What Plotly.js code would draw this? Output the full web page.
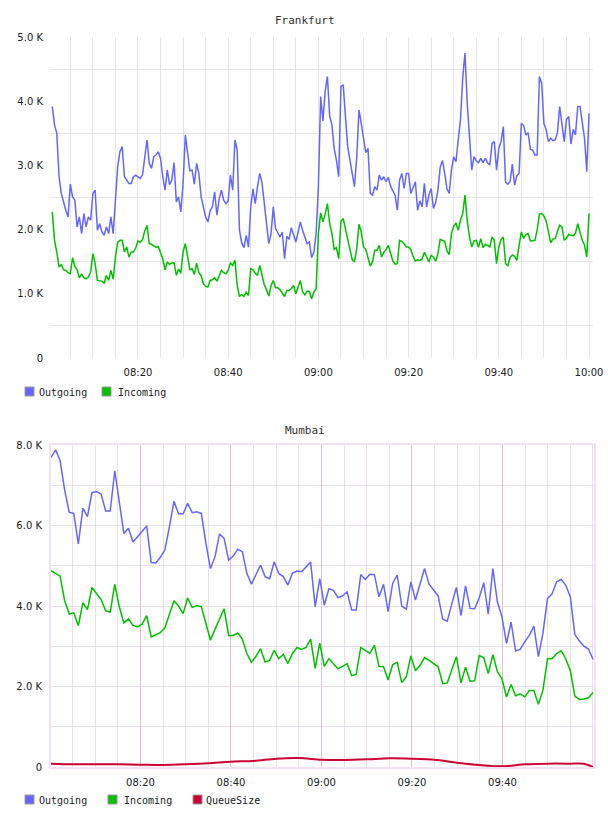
<!DOCTYPE html>
<html>
<head>
<meta charset="utf-8">
<script src="https://cdn.plot.ly/plotly-3.0.1.min.js"></script>
<style>
  html, body { margin: 0; padding: 0; background: #fff; }
  #chart { width: 608px; height: 816px; }
</style>
</head>
<body>
<div id="chart"></div>
<script>
// ---- Frankfurt: traffic sampled every 30 s from 08:01 ----
const DAY = '2024-05-14';
const frankfurtStart = '08:01:00';
const frankfurtStepSec = 30;
const frankfurtOutgoing = [
  3917,3630,3500,2823,2563,2406,2302,2198,2708,2510,
  2458,2042,2198,1938,2250,2042,2198,2146,2563,2615,
  1990,2094,1963,1911,2042,1938,2198,1938,2458,2979,
  3213,3292,2823,2771,2719,2719,2823,2849,2823,2797,
  2849,3135,3396,3031,2953,3135,3161,3213,3109,2823,
  2615,2930,2700,2771,3042,2432,2510,2276,2719,3474,
  3161,
  2917,2927,2708,3031,2875,2510,2328,2198,2120,2292,
  2354,2588,2224,2474,2615,2458,2406,2448,2849,2615,
  3396,3239,1990,1792,1719,1911,1729,2354,2635,2406,
  2667,2875,2729,2432,2068,1781,1938,2354,2016,1938,
  1885,1963,1547,1896,1849,2031,1911,1807,1963,2120,
  1990,1901,1781,1807,1562,1651,1938,2667,
  4073,3693,4151,4385,3771,3630,3265,3083,2823,4229,
  4255,3760,3292,3083,2875,2667,3135,3864,3656,3396,
  3198,3265,2563,2536,2667,2615,2849,2771,2823,2745,
  2812,2677,2615,2536,2302,2771,2875,2640,2875,2875,
  2563,2640,2745,2302,2448,2354,2719,2354,2536,2640,
  2328,2422,2615,2969,3078,2875,2640,2563,2927,3135,
  3057,3396,3708,4359,4750,3969,3500,2927,3135,3073,
  3042,3109,3042,3109,3042,3005,3344,3370,2927,3265,
  3370,3604,2740,2708,2745,3021,2693,2838,2875,3656,
  3620,3474,3510,3250,3239,3161,3161,4385,4281,3656,
  3552,3370,3422,3385,3396,3510,3917,3656,3370,3719,
  3760,3333,3562,3474,3917,3917,3656,3422,2900,3812
];
const frankfurtIncoming = [
  2276,1833,1651,1417,1453,1375,1364,1328,1312,1562,
  1427,1375,1250,1312,1250,1234,1260,1338,1625,1469,
  1208,1208,1198,1167,1286,1208,1364,1229,1573,1802,
  1833,1833,1651,1729,1573,1651,1651,1713,1823,1802,
  1844,1979,2068,1781,1771,1745,1724,1740,1625,1542,
  1375,1495,1458,1479,1484,1286,1385,1323,1651,1781,
  1583,
  1375,1391,1302,1479,1328,1286,1156,1115,1104,1208,
  1219,1250,1198,1276,1364,1328,1312,1364,1479,1443,
  1521,1130,958,990,958,1026,974,1391,1375,1323,
  1286,1443,1297,1141,1062,964,1130,1208,1094,1094,
  1062,1000,958,1052,1052,1083,1130,1000,1089,1208,
  1031,984,1042,1036,922,1026,1078,1938,
  2260,2120,2240,2406,2094,1938,1693,1719,1547,2130,
  2172,2016,1807,1687,1531,1505,1703,2083,1963,1729,
  1693,1562,1432,1500,1677,1677,1755,1573,1646,1687,
  1755,1635,1510,1463,1469,1833,1818,1781,1729,1729,
  1687,1583,1510,1531,1521,1542,1646,1573,1495,1599,
  1573,1510,1625,1849,1833,1818,1667,1609,1938,2052,
  2104,1990,2146,2250,2536,2135,1885,1729,1823,1833,
  1724,1859,1719,1771,1755,1729,1885,1833,1469,1729,
  1844,1885,1469,1437,1562,1604,1583,1521,1755,1963,
  1865,1922,1938,1823,1828,1833,1990,2240,2250,2214,
  2135,1938,1792,1854,1859,1974,2068,2042,1833,1865,
  1927,1911,1906,1943,2094,1958,1833,1760,1573,2250
];

// ---- Mumbai: one sample per polling cycle (~60 s) ----
const mumbaiStart = '08:00:14';
const mumbaiStepSec = 60.4;
const mumbaiOutgoing = [
  7690,7880,7610,6880,6330,6300,5540,6430,6220,6820,
  6840,6780,6360,6360,7360,6550,5800,5930,5590,5720,
  5850,5990,5080,5070,5210,5390,5970,6600,6290,6290,
  6550,6320,6340,6300,5560,4930,5220,5790,5680,5140,
  5240,5410,5350,4810,4540,4770,5020,4730,4680,5100,
  4810,4730,4520,4810,4870,4850,4960,5090,3980,4680,
  4020,4430,4390,4210,4250,4350,3900,3900,4780,4660,
  4790,4780,4230,4540,3860,4560,4770,4000,3920,4600,
  4150,4510,4930,4540,4390,4250,3670,3620,4060,4460,
  3760,4500,3940,3930,4200,4580,3800,4930,4100,3730,
  3070,3600,2880,2920,3110,3270,3500,2740,3330,4190,
  4300,4600,4660,4520,4230,3290,3130,3000,2930,2670
];
const mumbaiIncoming = [
  4880,4810,4740,4130,3800,3830,3510,4080,3910,4460,
  4310,4160,3880,3850,4540,3980,3580,3680,3520,3480,
  3550,3760,3230,3280,3340,3460,3800,4130,4000,3810,
  4200,3960,4010,3980,3570,3150,3420,3690,3930,3270,
  3270,3330,3180,2820,2600,2750,2940,2610,2650,2900,
  2690,2800,2570,2820,2970,2920,2970,3180,2450,3080,
  2500,2690,2570,2440,2500,2570,2270,2300,2970,2900,
  2820,3030,2500,2490,2160,2540,2600,2100,2240,2760,
  2390,2520,2720,2650,2570,2490,2070,2090,2420,2740,
  2090,2480,2130,2140,2770,2720,2320,2790,2370,2190,
  1740,2050,1770,1820,1740,1900,1900,1560,1910,2690,
  2690,2820,2890,2690,2400,1760,1680,1690,1720,1850
];
const queueTimes = [
  '08:00:14','08:05','08:10','08:15','08:20','08:25','08:30','08:35','08:40','08:45',
  '08:50','08:55','09:00','09:05','09:10','09:15','09:20','09:25','09:30','09:35',
  '09:40','09:45','09:50','09:55','09:58','10:00'
];
const queueSize = [
  80,66,66,66,58,50,66,91,133,150,
  207,224,182,174,190,216,207,182,108,50,
  17,66,83,83,80,0
];

const seriesNames  = ['Outgoing', 'Incoming', 'QueueSize'];
const seriesColors = ['#6666ff', '#00c000', '#cc0033'];
const hourTicks = ['08:20', '08:40', '09:00', '09:20', '09:40', '10:00'];
const frankfurtYTicks = [0, 1000, 2000, 3000, 4000, 5000];
const mumbaiYTicks = [0, 2000, 4000, 6000, 8000];

// ---- helpers ----
const W = 608, H = 816;
const px = x => x / W;
const py = y => 1 - y / H;
const pad = n => String(n).padStart(2, '0');
function clock(hms) {
  const p = hms.split(':').map(Number);
  return p[0] * 3600 + p[1] * 60 + (p[2] || 0);
}
function stamp(sec) {
  const h = Math.floor(sec / 3600), m = Math.floor((sec % 3600) / 60);
  const s = (sec % 60).toFixed(1);
  return `${DAY} ${pad(h)}:${pad(m)}:${s.padStart(4, '0')}`;
}
function timeline(start, stepSec, n) {
  const t0 = clock(start);
  return Array.from({length: n}, (_, i) => stamp(t0 + i * stepSec));
}
const at = hm => `${DAY} ${hm}`;
const fmtK = v => v === 0 ? '0' : (v / 1000).toFixed(1) + ' K';

const fTimes = timeline(frankfurtStart, frankfurtStepSec, frankfurtOutgoing.length);
const mTimes = timeline(mumbaiStart, mumbaiStepSec, mumbaiOutgoing.length);

const line = (x, y, i, xa, ya, extra) => Object.assign({
  type: 'scatter', mode: 'lines', x, y, name: seriesNames[i],
  xaxis: xa, yaxis: ya, hoverinfo: 'skip',
  line: {color: seriesColors[i], width: 1.5}
}, extra || {});

const data = [
  line(fTimes, frankfurtOutgoing, 0, 'x', 'y'),
  line(fTimes, frankfurtIncoming, 1, 'x', 'y'),
  line(mTimes, mumbaiOutgoing, 0, 'x2', 'y2'),
  line(mTimes, mumbaiIncoming, 1, 'x2', 'y2'),
  line(queueTimes.map(at), queueSize, 2, 'x2', 'y2', {line: {color: seriesColors[2], width: 2, shape: 'spline', smoothing: 0.8}})
];

const tickFont = {family: 'DejaVu Sans', size: 10, color: '#222'};
const monoFont = {family: 'DejaVu Sans Mono', size: 10, color: '#222'};
const FGRID = '#e6e6e6';
const MGRID = '#ecdfec', MMAJOR = '#dcc3dc', MFRAME = '#f1e3f1';

const layout = {
  width: W, height: H,
  margin: {l: 0, r: 0, t: 0, b: 0},
  paper_bgcolor: '#fff', plot_bgcolor: '#fff',
  showlegend: false,
  xaxis: {
    type: 'date', domain: [px(51), px(593)], anchor: 'y',
    range: [at('08:00:43'), at('10:00:53')],
    tickmode: 'array', tickvals: hourTicks.map(at), ticktext: hourTicks,
    showgrid: true, gridcolor: FGRID, gridwidth: 1,
    minor: {dtick: 300000, tick0: at('08:00'), showgrid: true, gridcolor: FGRID, gridwidth: 1},
    ticks: 'outside', ticklen: 5, tickcolor: 'rgba(0,0,0,0)',
    zeroline: false, showline: false, tickfont: tickFont, fixedrange: true
  },
  yaxis: {
    domain: [py(358), py(37)], anchor: 'x', range: [0, 5000],
    tickmode: 'array', tickvals: frankfurtYTicks, ticktext: frankfurtYTicks.map(fmtK),
    showgrid: false,
    minor: {tick0: 500, dtick: 1000, showgrid: true, gridcolor: FGRID, gridwidth: 1},
    ticks: 'outside', ticklen: 5, tickcolor: 'rgba(0,0,0,0)',
    zeroline: false, showline: false, tickfont: tickFont, fixedrange: true
  },
  xaxis2: {
    type: 'date', domain: [px(51), px(594)], anchor: 'y2',
    range: [at('08:00:14'), at('10:00:14')],
    tickmode: 'array', tickvals: hourTicks.slice(0, 5).map(at), ticktext: hourTicks.slice(0, 5),
    showgrid: true, gridcolor: MMAJOR, gridwidth: 1,
    minor: {dtick: 300000, tick0: at('08:00'), showgrid: true, gridcolor: MGRID, gridwidth: 1},
    ticks: 'outside', ticklen: 5, tickcolor: 'rgba(0,0,0,0)',
    zeroline: false, showline: true, mirror: true, linecolor: MFRAME, linewidth: 2,
    tickfont: tickFont, fixedrange: true
  },
  yaxis2: {
    domain: [py(767), py(445)], anchor: 'x2', range: [0, 8000],
    tickmode: 'array', tickvals: mumbaiYTicks, ticktext: mumbaiYTicks.map(fmtK),
    showgrid: true, gridcolor: MGRID, gridwidth: 1,
    minor: {tick0: 1000, dtick: 2000, showgrid: true, gridcolor: MGRID, gridwidth: 1},
    ticks: 'outside', ticklen: 5, tickcolor: 'rgba(0,0,0,0)',
    zeroline: false, showline: true, mirror: true, linecolor: MFRAME, linewidth: 2,
    tickfont: tickFont, fixedrange: true
  },
  annotations: [],
  shapes: []
};

// chart titles
layout.annotations.push(
  {text: 'Frankfurt', xref: 'paper', yref: 'paper', x: px(305), y: py(20), showarrow: false,
   xanchor: 'center', yanchor: 'middle', font: {family: 'DejaVu Sans Mono', size: 11, color: '#333'}},
  {text: 'Mumbai', xref: 'paper', yref: 'paper', x: px(305), y: py(430), showarrow: false,
   xanchor: 'center', yanchor: 'middle', font: {family: 'DejaVu Sans Mono', size: 11, color: '#333'}}
);

// legend rows: swatch left edge, label left edge, row centre
function legendRow(items, cy) {
  items.forEach(([i, sx, tx]) => {
    layout.shapes.push({type: 'rect', xref: 'paper', yref: 'paper',
      x0: px(sx), x1: px(sx + 9), y0: py(cy - 5), y1: py(cy + 4),
      fillcolor: seriesColors[i], line: {color: '#999', width: 1}});
    layout.annotations.push({text: seriesNames[i], xref: 'paper', yref: 'paper',
      x: px(tx), y: py(cy), xanchor: 'left', yanchor: 'middle', showarrow: false,
      font: monoFont});
  });
}
legendRow([[0, 25, 37], [1, 102, 116]], 392);
legendRow([[0, 25, 37], [1, 108, 122], [2, 193, 204]], 800);

Plotly.newPlot('chart', data, layout, {staticPlot: true, displayModeBar: false});
</script>
</body>
</html>
